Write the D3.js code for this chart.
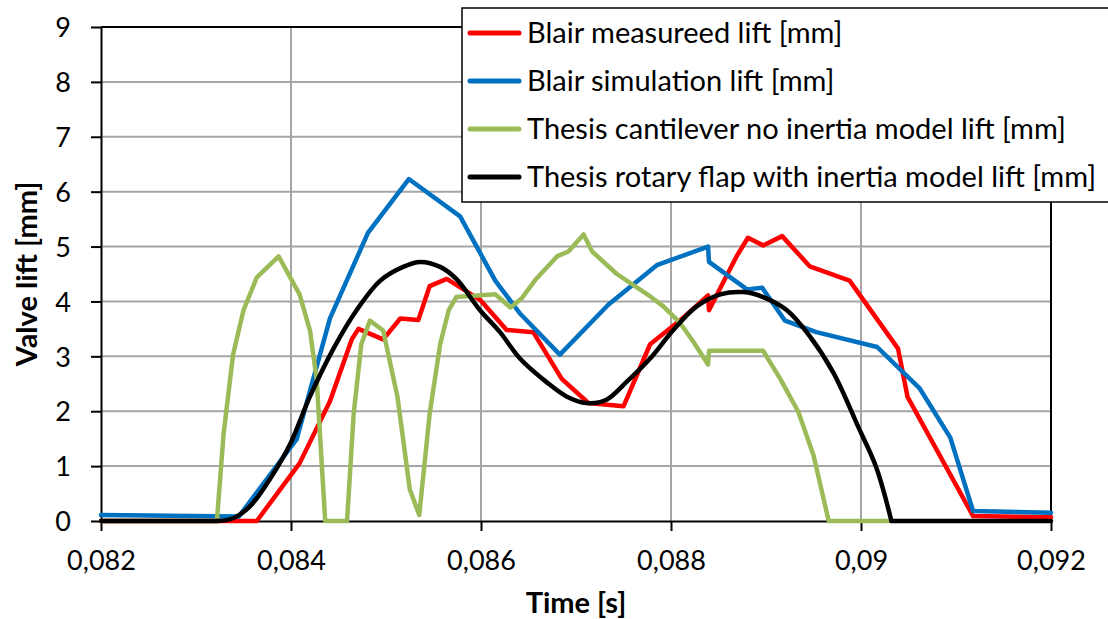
<!DOCTYPE html>
<html>
<head>
<meta charset="utf-8">
<script src="https://cdn.jsdelivr.net/npm/d3@7"></script>
<style>
  html, body { margin: 0; padding: 0; background: #fff; }
  svg { display: block; font-family: Lato, "Open Sans", sans-serif; }
</style>
</head>
<body>
<svg id="chart" width="1108" height="619"></svg>
<script>
// valve lift chart
const xTicks = [0.082, 0.084, 0.086, 0.088, 0.090, 0.092];
const xTickLabels = ['0,082', '0,084', '0,086', '0,088', '0,09', '0,092'];
const yTicks = [0, 1, 2, 3, 4, 5, 6, 7, 8, 9];

const seriesNames = [
  'Blair measureed lift [mm]',
  'Blair simulation lift [mm]',
  'Thesis cantilever no inertia model lift [mm]',
  'Thesis rotary flap with inertia model lift [mm]'
];
const seriesColors = ['#ff0000', '#0070c0', '#9bbb59', '#000000'];

const redT = [0.082, 0.08364, 0.08409, 0.08441, 0.08464, 0.08471, 0.08497, 0.08515, 0.08534, 0.08546, 0.08564, 0.08599, 0.08627, 0.08655, 0.08685, 0.08713, 0.0875, 0.08778, 0.0881, 0.08839, 0.0884, 0.08855, 0.08869, 0.08881, 0.08897, 0.08917, 0.08946, 0.08988, 0.09039, 0.09049, 0.09118, 0.092];
const redV = [0, 0, 1.05, 2.18, 3.31, 3.5, 3.31, 3.69, 3.66, 4.28, 4.41, 4.03, 3.48, 3.44, 2.59, 2.15, 2.09, 3.22, 3.66, 4.11, 3.84, 4.35, 4.82, 5.16, 5.02, 5.19, 4.64, 4.38, 3.14, 2.26, 0.09, 0.07];

const blueT = [0.082, 0.08345, 0.08406, 0.08441, 0.08481, 0.08524, 0.08578, 0.08615, 0.08641, 0.08683, 0.08734, 0.08785, 0.08839, 0.0884, 0.0888, 0.08896, 0.0892, 0.08953, 0.09017, 0.09062, 0.09094, 0.09118, 0.092];
const blueV = [0.11, 0.08, 1.49, 3.69, 5.25, 6.23, 5.55, 4.38, 3.78, 3.03, 3.94, 4.66, 5.0, 4.72, 4.22, 4.25, 3.65, 3.44, 3.17, 2.41, 1.52, 0.18, 0.15];

const greenT = [0.082, 0.08322, 0.08329, 0.08339, 0.0835, 0.08364, 0.08387, 0.08409, 0.0842, 0.08427, 0.08436, 0.08459, 0.08466, 0.08474, 0.08483, 0.08497, 0.08512, 0.08525, 0.08535, 0.08546, 0.08557, 0.08566, 0.08574, 0.08615, 0.08631, 0.08643, 0.08658, 0.0868, 0.08692, 0.08708, 0.08717, 0.08743, 0.08775, 0.08792, 0.08809, 0.08823, 0.08839, 0.0884, 0.08897, 0.08915, 0.08934, 0.0895, 0.08966, 0.0903];
const greenV = [0, 0, 1.58, 3.03, 3.84, 4.44, 4.82, 4.13, 3.47, 2.59, 0, 0, 1.96, 3.22, 3.65, 3.47, 2.27, 0.58, 0.11, 1.96, 3.22, 3.84, 4.08, 4.13, 3.89, 4.06, 4.41, 4.82, 4.91, 5.22, 4.91, 4.5, 4.13, 3.91, 3.62, 3.28, 2.85, 3.1, 3.1, 2.59, 1.99, 1.2, 0, 0];

const blackT = [0.082, 0.08322, 0.08339, 0.08357, 0.08378, 0.08399, 0.0842, 0.08445, 0.08469, 0.08494, 0.08518, 0.08536, 0.08557, 0.08574, 0.08599, 0.0862, 0.08641, 0.08669, 0.0869, 0.08711, 0.08732, 0.08753, 0.08778, 0.08802, 0.08827, 0.08852, 0.08876, 0.08897, 0.08922, 0.08946, 0.08971, 0.08997, 0.09016, 0.09032, 0.092];
const blackV = [0, 0, 0.05, 0.27, 0.77, 1.4, 2.27, 3.15, 3.84, 4.38, 4.63, 4.72, 4.63, 4.41, 3.84, 3.44, 2.96, 2.53, 2.27, 2.15, 2.21, 2.53, 2.96, 3.47, 3.91, 4.13, 4.17, 4.08, 3.84, 3.37, 2.7, 1.72, 0.98, 0, 0];

const svg = d3.select('#chart');
const plot = { left: 101, right: 1051, top: 27, bottom: 521 };

const x = d3.scaleLinear().domain([0.082, 0.092]).range([plot.left, plot.right]);
const y = d3.scaleLinear().domain([0, 9]).range([plot.bottom, plot.top]);

svg.append('rect').attr('width', 1108).attr('height', 619).attr('fill', '#fff');

// grid
const grid = svg.append('g').attr('stroke', '#a6a6a6').attr('stroke-width', 2);
grid.selectAll('line.gx')
  .data(xTicks.slice(1, -1))
  .join('line')
  .attr('x1', d => x(d)).attr('x2', d => x(d))
  .attr('y1', plot.top).attr('y2', plot.bottom);
grid.selectAll('line.gy')
  .data(yTicks.slice(1, -1))
  .join('line')
  .attr('x1', plot.left).attr('x2', plot.right)
  .attr('y1', d => y(d)).attr('y2', d => y(d));

// frame (top + right)
svg.append('path')
  .attr('d', `M${plot.left},${plot.top}H${plot.right}V${plot.bottom}`)
  .attr('fill', 'none').attr('stroke', '#000').attr('stroke-width', 2);

// axes
const xAxis = d3.axisBottom(x).tickValues(xTicks).tickFormat((d, i) => xTickLabels[i]).tickSize(10).tickSizeOuter(0);
const yAxis = d3.axisLeft(y).tickValues(yTicks).tickSize(10).tickSizeOuter(0);

const gx = svg.append('g').attr('transform', `translate(0,${plot.bottom})`).call(xAxis);
const gy = svg.append('g').attr('transform', `translate(${plot.left},0)`).call(yAxis);

[gx, gy].forEach(g => {
  g.select('.domain').attr('stroke', '#000').attr('stroke-width', 2);
  g.selectAll('.tick line').attr('stroke', '#000').attr('stroke-width', 2);
  g.selectAll('.tick text')
    .attr('fill', '#000')
    .style('font-family', 'Lato, "Open Sans", sans-serif')
    .style('font-size', '27px');
});
gx.selectAll('.tick text').attr('y', 0).attr('dy', 0).attr('transform', 'translate(0,49)');
gy.selectAll('.tick text').attr('x', -30).attr('dy', '0.36em');

// series
const drawLine = (pts, color, curve) => {
  const line = d3.line().x(d => x(d[0])).y(d => y(d[1])).curve(curve);
  svg.append('path')
    .datum(pts)
    .attr('d', line)
    .attr('fill', 'none')
    .attr('stroke', color)
    .attr('stroke-width', 4.5)
    .attr('stroke-linejoin', 'round')
    .attr('stroke-linecap', 'round');
};

const toPts = (ts, vs) => ts.map((t, j) => [t, vs[j]]);

drawLine(toPts(redT, redV), seriesColors[0], d3.curveLinear);
drawLine(toPts(blueT, blueV), seriesColors[1], d3.curveLinear);
drawLine(toPts(greenT, greenV), seriesColors[2], d3.curveLinear);

// black is a smooth model curve; keep the flat zero parts straight
const blackPts = toPts(blackT, blackV);
const liftStart = blackV.findIndex(v => v > 0) - 1;
const liftEnd = blackV.findLastIndex(v => v > 0) + 1;
drawLine(blackPts.slice(0, liftStart + 1), seriesColors[3], d3.curveLinear);
drawLine(blackPts.slice(liftStart, liftEnd + 1), seriesColors[3], d3.curveCatmullRom.alpha(0.5));
drawLine(blackPts.slice(liftEnd), seriesColors[3], d3.curveLinear);

// axis titles
svg.append('text')
  .attr('transform', `translate(37,${(plot.top + plot.bottom) / 2}) rotate(-90)`)
  .attr('text-anchor', 'middle')
  .style('font-size', '29px').style('font-weight', 'bold')
  .text('Valve lift [mm]');

svg.append('text')
  .attr('x', 576).attr('y', 613)
  .attr('text-anchor', 'middle')
  .style('font-size', '29px').style('font-weight', 'bold')
  .text('Time [s]');

// legend
const legend = svg.append('g');
legend.append('rect')
  .attr('x', 462).attr('y', 8).attr('width', 660).attr('height', 194)
  .attr('fill', '#fff').attr('stroke', '#000').attr('stroke-width', 1.5);

const rows = legend.selectAll('g.row')
  .data(seriesNames)
  .join('g')
  .attr('transform', (d, i) => `translate(0,${33 + i * 48})`);
rows.append('line')
  .attr('x1', 470).attr('x2', 519)
  .attr('stroke', (d, i) => seriesColors[i])
  .attr('stroke-width', 5)
  .attr('stroke-linecap', 'round');
rows.append('text')
  .attr('x', 527).attr('dy', '0.36em')
  .style('font-size', '29px')
  .text(d => d);
</script>
</body>
</html>
